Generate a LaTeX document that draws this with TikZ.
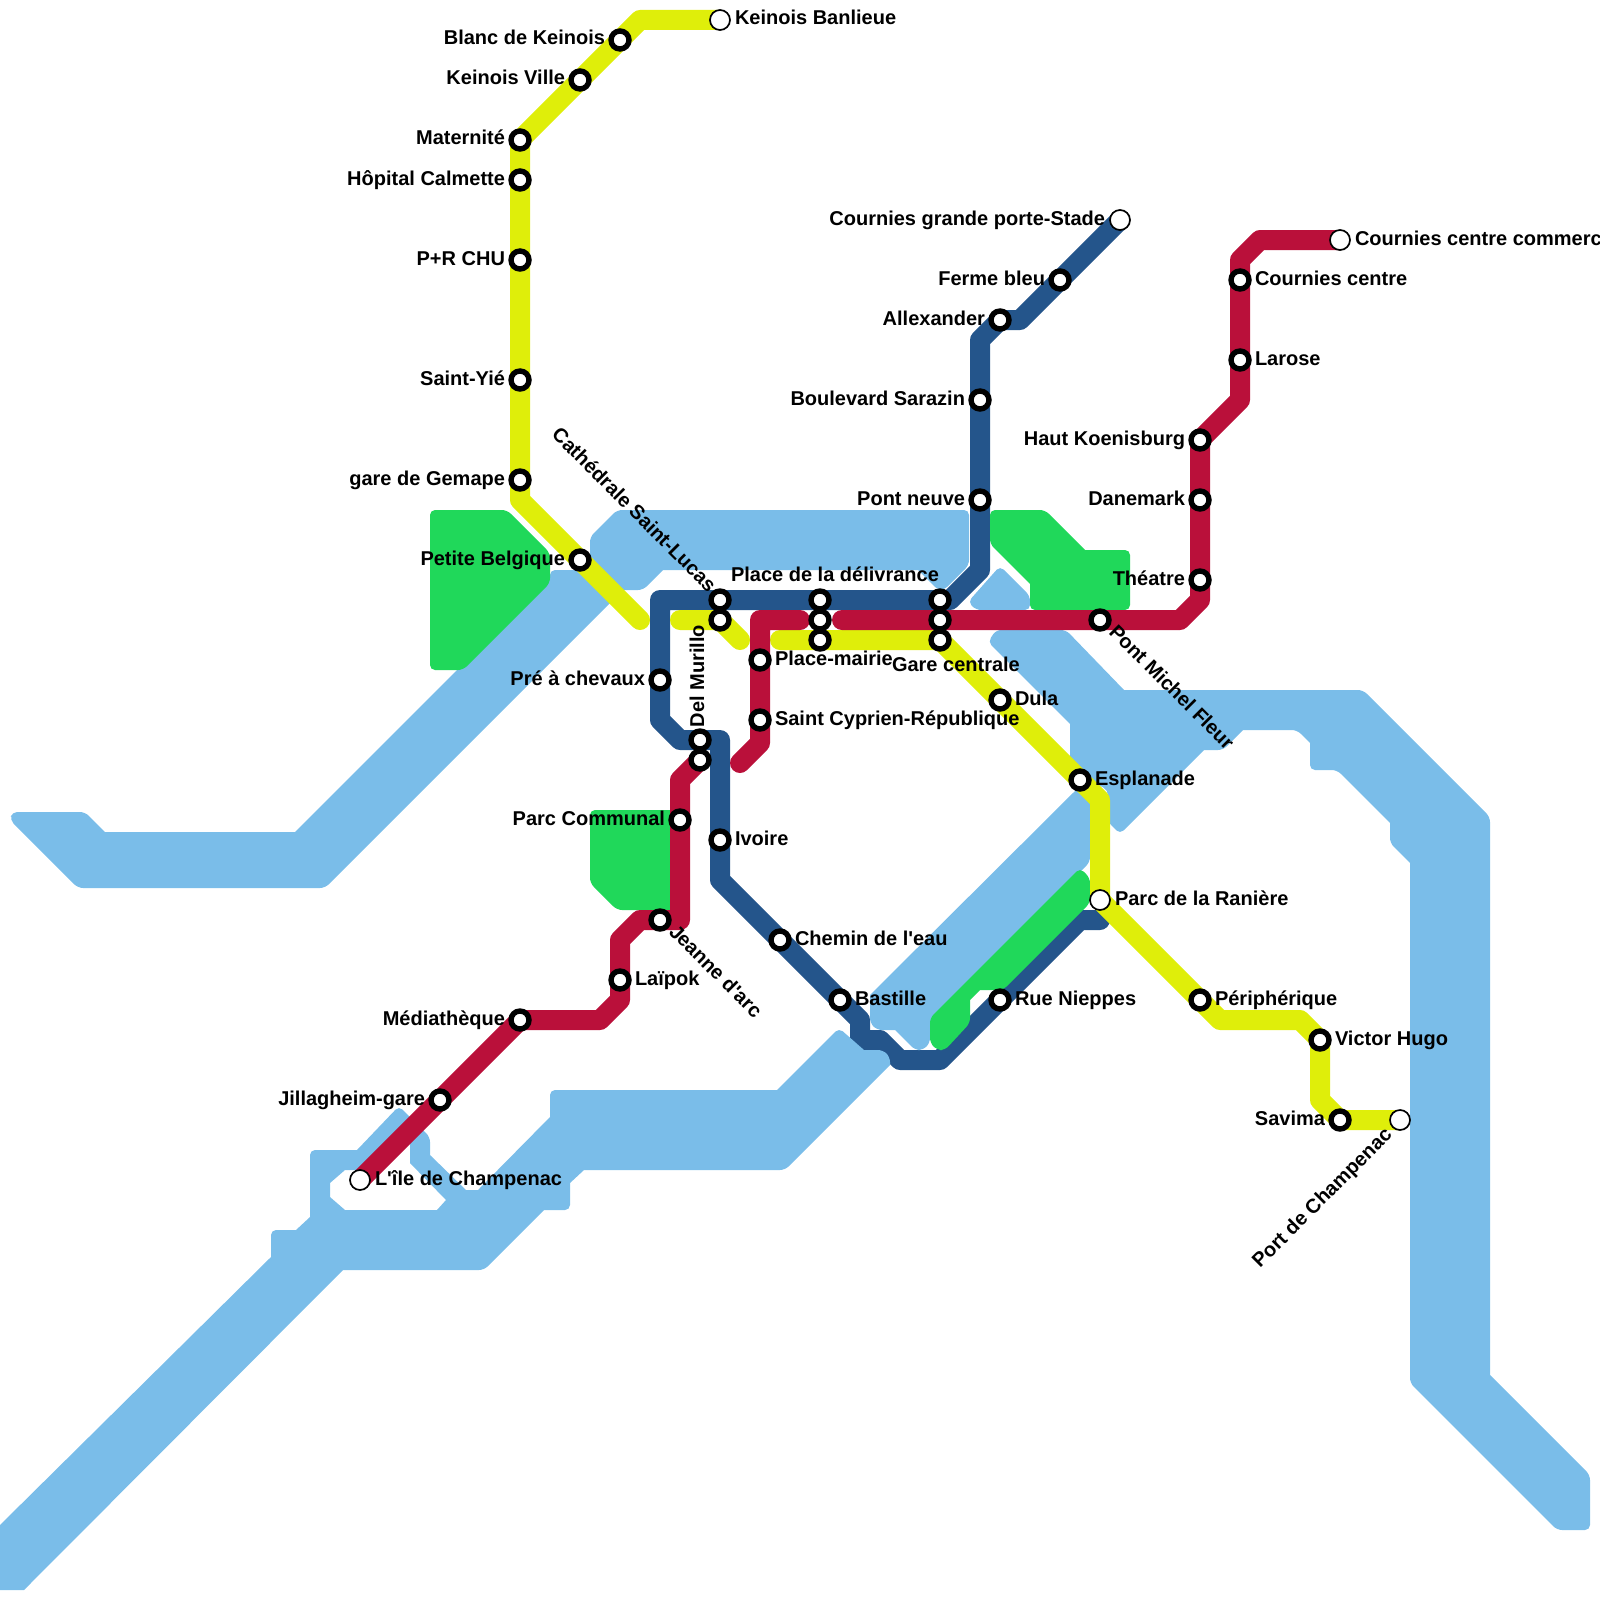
\documentclass[tikz,border=0pt]{standalone}
\usepackage{fontspec}
\newfontfamily\labfont{Liberation Sans}
\definecolor{waterc}{HTML}{7ABDE9}
\definecolor{parkc}{HTML}{20D85A}
\definecolor{yellowc}{HTML}{DFEE0A}
\definecolor{redc}{HTML}{BA103A}
\definecolor{darkc}{HTML}{24558B}
\tikzset{
  sc/.style={sharp corners},
  rc/.style={rounded corners=5pt},
  water/.style={fill=waterc,rc,even odd rule},
  park/.style={fill=parkc,rc},
  metro/.style={line width=20pt,line join=round,line cap=round},
  stop/.style={circle,draw=black,fill=white,line width=5.4pt,minimum size=18pt,inner sep=0pt,outer sep=0pt},
  endstop/.style={circle,draw=black,fill=white,line width=1.7pt,minimum size=20pt,inner sep=0pt,outer sep=0pt},
  lab/.style={font=\labfont\bfseries\fontsize{20}{24}\selectfont,inner sep=0pt,outer sep=0pt,text=black},
  lblR/.style={lab,anchor=base west},
  lblL/.style={lab,anchor=base east}
}
\begin{document}
\begin{tikzpicture}[x=1pt,y=-1pt]
\useasboundingbox (0,0) rectangle (1600,1600);
% station positions
\foreach \n/\x/\y in {kb/720/20,bk/620/40,kv/580/80,mat/520/140,hop/520/180,prc/520/260,sy/520/380,gem/520/480,pb/580/560,
  cat/720/600,mur/720/620,pd1/820/600,pd2/820/620,pd3/820/640,gc1/940/600,gc2/940/620,gc3/940/640,
  dm1/700/740,dm2/700/760,pre/660/680,pma/760/660,scr/760/720,pco/680/820,jda/660/920,lai/620/980,
  med/520/1020,jil/440/1100,ile/360/1180,ivo/720/840,che/780/940,bas/840/1000,rue/1000/1000,
  ran/1100/900,esp/1080/780,dul/1000/700,per/1200/1000,vic/1320/1040,sav/1340/1120,pch/1400/1120,
  pmf/1100/620,the/1200/580,dan/1200/500,hko/1200/440,lar/1240/360,coc/1240/280,ccc/1340/240,
  cgp/1120/220,fer/1060/280,all/1000/320,bsa/980/400,pne/980/500}
  {\coordinate (\n) at (\x,\y);}
% free line ends
\coordinate (yA) at (640,620);
\coordinate (yB) at (680,620);
\coordinate (yC) at (740,640);
\coordinate (yD) at (780,640);
\coordinate (rA) at (842,620);
\coordinate (rB) at (800,620);
\coordinate (rC) at (740,763);
\coordinate (dA) at (1100,920);

% dark line lies under the water
\draw[metro,darkc] (cgp) -- (fer) -- (1020,320) -- (all) -- (980,340) -- (bsa) -- (pne) -- (980,570) -- (950,600) -- (gc1) -- (pd1) -- (cat) -- (660,600) -- (pre) -- (660,720) -- (680,740) -- (dm1) -- (720,740) -- (ivo) -- (720,880) -- (che) -- (bas) -- (860,1020) -- (860,1040) -- (880,1040) -- (900,1060) -- (940,1060) -- (rue) -- (1080,920) -- (dA);

% water
\fill[water] (12,812) -- (85,812) [sc] -- (105,832) -- (295,832) -- (550,577) [rc] -- (550,570) [sc] -- (590,570) [rc] -- (590,537) -- (617,510) -- (969,510) -- (969,565) -- (944,590) -- (938,590) [sc] -- (918,570) -- (663,570) [rc] -- (643,590) [sc] -- (623,590) [rc] -- (325,888) -- (78,888) -- (10,820) -- cycle;
\fill[water] (1000,566) -- (1030,596) -- (1030,610) -- (976,610) -- (968,602) -- cycle;
\fill[water] (996,630) -- (1066,630) [sc] -- (1124,690) [rc] -- (1363,690) -- (1490,817) [sc] -- (1490,1375) [rc] -- (1590,1475) -- (1590,1530) -- (1557,1530) -- (1410,1383) [sc] -- (1410,863) [rc] -- (1390,843) [sc] -- (1390,823) [rc] -- (1337,770) -- (1310,770) [sc] -- (1310,743) [rc] -- (1297,730) [sc] -- (1243,730) [rc] -- (1223,750) [sc] -- (1204,750) [rc] -- (1120,834) -- (1108,822) -- (1108,790) [sc] -- (1070,770) -- (1070,724) [rc] -- (988,642) -- cycle;
\fill[water] (1078,788) -- (1090,800) -- (1090,862) [sc] -- (930,1022) [rc] -- (930,1043) -- (923,1050) -- (915,1050) [sc] -- (895,1030) [rc] -- (877,1030) -- (870,1023) [sc] -- (870,995) -- cycle;
\fill[water] [sc] (0,1525) -- (271,1257) [rc] -- (271,1230) [sc] -- (296,1230) -- (310,1217) [rc] -- (310,1150) [sc] -- (357,1150) [rc] -- (399,1106) -- (430,1137) [sc] -- (430,1155) -- (466,1190) -- (478,1190) -- (550,1117) [rc] -- (550,1090) [sc] -- (777,1090) [rc] -- (839,1028) [sc] -- (864,1050) [rc] -- (883,1050) -- (890,1057) [sc] -- (890,1065) [rc] -- (785,1170) [sc] -- (584,1170) -- (570,1183) [rc] -- (570,1210) [sc] -- (544,1210) [rc] -- (484,1270) [sc] -- (343,1270) -- (24,1590) -- (0,1590) -- cycle
  (345,1170) -- (372,1170) -- (410,1132) -- (410,1163) -- (446,1200) -- (437,1210) -- (345,1210) -- (330,1197) -- (330,1183) -- cycle;

% parks
\fill[park] (430,510) -- (507,510) -- (550,553) -- (550,583) -- (463,670) -- (430,670) -- cycle;
\fill[park] (590,810) -- (680,810) -- (680,910) -- (617,910) -- (590,883) -- cycle;
\fill[park] (990,510) -- (1045,510) [sc] -- (1085,550) [rc] -- (1130,550) -- (1130,610) -- (1030,610) [sc] -- (1030,584) [rc] -- (990,544) -- cycle;
\fill[park] (1080,868) -- (1090,878) -- (1090,903) -- (1003,990) [sc] -- (980,990) -- (970,1000) [rc] -- (970,1023) -- (945,1050) -- (937,1050) -- (930,1043) -- (930,1018) -- cycle;

% lines above the water
\draw[metro,yellowc] (kb) -- (640,20) -- (bk) -- (kv) -- (mat) -- (hop) -- (prc) -- (sy) -- (gem) -- (520,500) -- (pb) -- (yA);
\draw[metro,yellowc] (yB) -- (mur) -- (yC);
\draw[metro,yellowc] (yD) -- (pd3) -- (gc3) -- (dul) -- (esp) -- (1100,800) -- (ran) -- (per) -- (1220,1020) -- (1300,1020) -- (vic) -- (1320,1100) -- (sav) -- (pch);
\draw[metro,redc] (ccc) -- (1260,240) -- (1240,260) -- (coc) -- (lar) -- (1240,400) -- (hko) -- (dan) -- (the) -- (1200,600) -- (1180,620) -- (pmf) -- (gc2) -- (rA);
\draw[metro,redc] (rB) -- (760,620) -- (pma) -- (scr) -- (760,743) -- (rC);
\draw[metro,redc] (dm2) -- (680,780) -- (pco) -- (680,920) -- (jda) -- (640,920) -- (620,940) -- (lai) -- (620,1000) -- (600,1020) -- (med) -- (jil) -- (ile);

% station markers
\foreach \n in {bk,kv,mat,hop,prc,sy,gem,pb,cat,mur,pd1,pd2,pd3,gc1,gc2,gc3,dm1,dm2,pre,pma,scr,pco,jda,lai,med,jil,ivo,che,bas,rue,esp,dul,per,vic,sav,pmf,the,dan,hko,lar,coc,fer,all,bsa,pne}
  {\node[stop] (m-\n) at (\n) {};}
\foreach \n in {kb,ile,ran,pch,ccc,cgp}
  {\node[endstop] (m-\n) at (\n) {};}

% labels to the left
\foreach \n/\t in {bk/Blanc de Keinois,kv/Keinois Ville,mat/Maternité,hop/Hôpital Calmette,prc/P+R CHU,sy/Saint-Yié,gem/gare de Gemape,pb/Petite Belgique,pre/Pré à chevaux,pco/Parc Communal,med/Médiathèque,jil/Jillagheim-gare,cgp/Cournies grande porte-Stade,fer/Ferme bleu,all/Allexander,bsa/Boulevard Sarazin,pne/Pont neuve,hko/Haut Koenisburg,dan/Danemark,the/Théatre,sav/Savima}
  {\node[lblL] (t-\n) at ([shift={(-15,5)}]\n) {\t};}
% labels to the right
\foreach \n/\t in {kb/Keinois Banlieue,ccc/Cournies centre commerc,coc/Cournies centre,lar/Larose,pma/Place-mairie,scr/Saint Cyprien-République,ivo/Ivoire,che/Chemin de l'eau,bas/Bastille,rue/Rue Nieppes,dul/Dula,esp/Esplanade,ran/Parc de la Ranière,per/Périphérique,vic/Victor Hugo,lai/Laïpok,ile/L'île de Champenac}
  {\node[lblR] (t-\n) at ([shift={(15,5)}]\n) {\t};}
% other labels
\node[lab,anchor=base east,rotate=-45] (t-cat) at ([shift={(-12,-7)}]cat) {Cathédrale Saint-Lucas};
\node[lab,anchor=base west,rotate=90] (t-mur) at ([shift={(4,-13)}]dm1) {Del Murillo};
\node[lblR] (t-pd) at (731,581) {Place de la délivrance};
\node[lblR] (t-gc) at (892,671) {Gare centrale};
\node[lab,anchor=base west,rotate=-45] (t-jda) at ([shift={(8,13)}]jda) {Jeanne d'arc};
\node[lab,anchor=base west,rotate=-45] (t-pmf) at ([shift={(8,13)}]pmf) {Pont Michel Fleur};
\node[lab,anchor=base east,rotate=45] (t-pch) at ([shift={(-7,16)}]pch) {Port de Champenac};
\end{tikzpicture}
\end{document}
